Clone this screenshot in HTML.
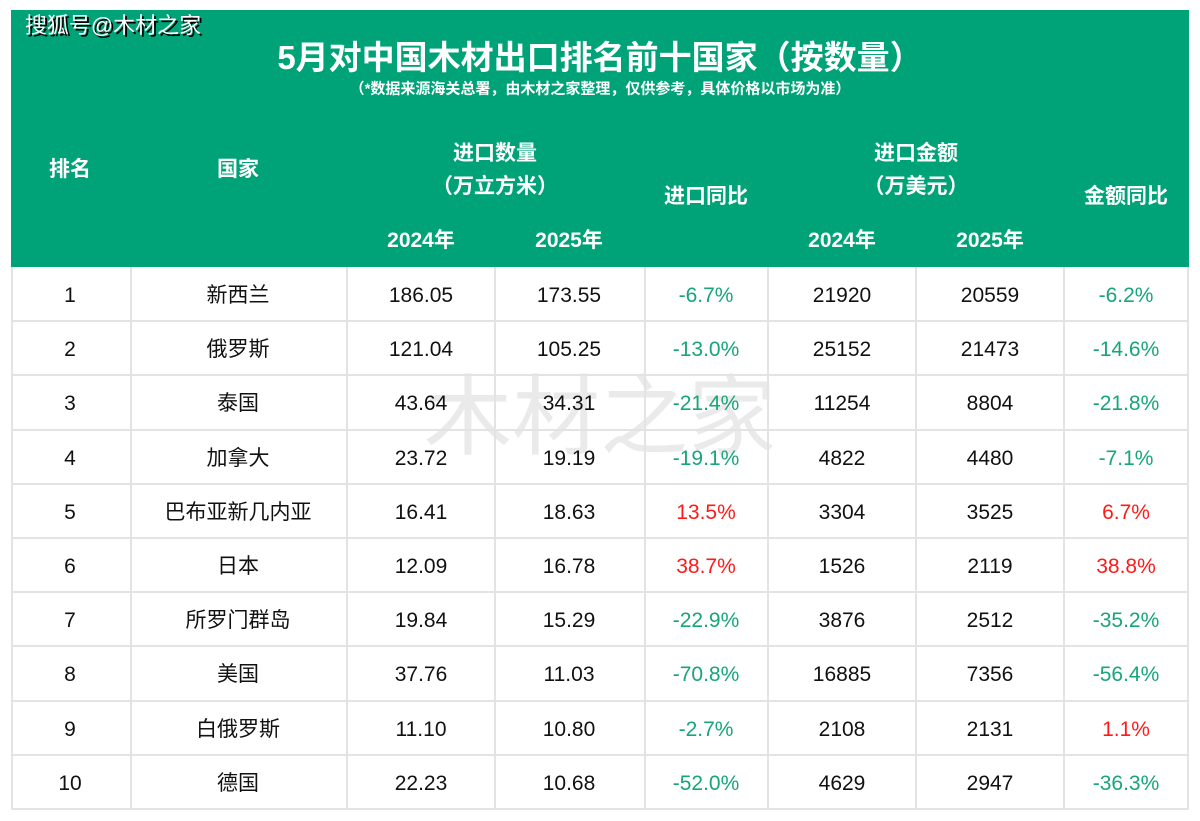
<!DOCTYPE html>
<html><head><meta charset="utf-8"><style>
body{margin:0;width:1200px;height:821px;background:#fff;position:relative;overflow:hidden;font-family:"Liberation Sans","Noto Sans CJK SC",sans-serif}
.g{position:absolute;left:11px;top:10px;width:1178px;height:257px;background:#00a378}
.t{position:absolute;transform:translate(-50%,-50%);white-space:nowrap}
.h{color:#fff;font-weight:bold;font-size:21px}
.c{font-size:21px;color:#111}
.gr{color:#17a57a}.rd{color:#ff1a1a}
.vl{position:absolute;top:267px;height:543px;width:2px;background:#e3e3e3}
.hl{position:absolute;left:11px;width:1178px;height:2px;background:#e3e3e3}
</style></head><body>
<div class="g"></div>
<div class="t" style="left:113px;top:24px;font-size:22px;color:#fff;text-shadow:2px 2px 0 #000">搜狐号@木材之家</div>
<div class="t h" style="left:600px;top:55px;font-size:33px">5月对中国木材出口排名前十国家（按数量）</div>
<div class="t h" style="left:600px;top:88px;font-size:15px">（*数据来源海关总署，由木材之家整理，仅供参考，具体价格以市场为准）</div>
<div class="t h" style="left:70px;top:168px">排名</div>
<div class="t h" style="left:238px;top:168px">国家</div>
<div class="t h" style="left:495px;top:152px">进口数量</div>
<div class="t h" style="left:495px;top:185px">（万立方米）</div>
<div class="t h" style="left:421px;top:239px">2024年</div>
<div class="t h" style="left:569px;top:239px">2025年</div>
<div class="t h" style="left:706px;top:195px">进口同比</div>
<div class="t h" style="left:916px;top:152px">进口金额</div>
<div class="t h" style="left:916px;top:185px">（万美元）</div>
<div class="t h" style="left:842px;top:239px">2024年</div>
<div class="t h" style="left:990px;top:239px">2025年</div>
<div class="t h" style="left:1126px;top:195px">金额同比</div>
<div class="t" style="left:600px;top:410px;font-size:88px;color:rgba(180,180,180,0.28)">木材之家</div>
<div class="vl" style="left:11px"></div><div class="vl" style="left:130px"></div><div class="vl" style="left:346px"></div><div class="vl" style="left:494px"></div><div class="vl" style="left:644px"></div><div class="vl" style="left:767px"></div><div class="vl" style="left:915px"></div><div class="vl" style="left:1063px"></div><div class="vl" style="left:1187px"></div>
<div id="rows"></div>
<script>
var d=[["1","新西兰","186.05","173.55","-6.7%","21920","20559","-6.2%"],["2","俄罗斯","121.04","105.25","-13.0%","25152","21473","-14.6%"],["3","泰国","43.64","34.31","-21.4%","11254","8804","-21.8%"],["4","加拿大","23.72","19.19","-19.1%","4822","4480","-7.1%"],["5","巴布亚新几内亚","16.41","18.63","13.5%","3304","3525","6.7%"],["6","日本","12.09","16.78","38.7%","1526","2119","38.8%"],["7","所罗门群岛","19.84","15.29","-22.9%","3876","2512","-35.2%"],["8","美国","37.76","11.03","-70.8%","16885","7356","-56.4%"],["9","白俄罗斯","11.10","10.80","-2.7%","2108","2131","1.1%"],["10","德国","22.23","10.68","-52.0%","4629","2947","-36.3%"]];
var xs=[70,238,421,569,706,842,990,1126],h="";
for(var i=0;i<10;i++){var y=267+i*54.2;h+='<div class="hl" style="top:'+(y+53.2)+'px"></div>';
for(var j=0;j<8;j++){var v=d[i][j],cl="c",off=j==1?27:29;if(j==4||j==7)cl+=v[0]=="-"?" gr":" rd";
h+='<div class="t '+cl+'" style="left:'+xs[j]+'px;top:'+(y+off)+'px">'+v+'</div>';}}
document.getElementById("rows").innerHTML=h;
</script>
</body></html>
